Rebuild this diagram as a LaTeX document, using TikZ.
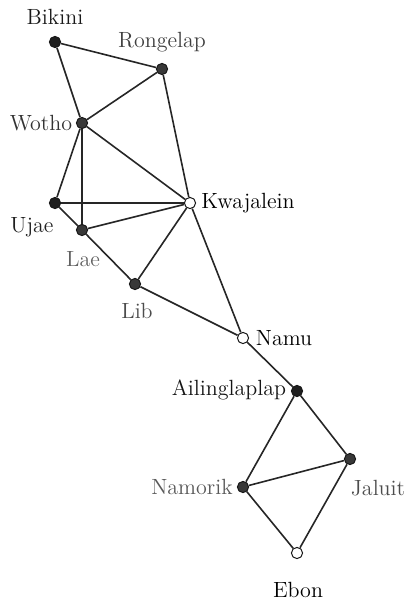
\documentclass[tikz,border=0pt]{standalone}
\begin{document}
\begin{tikzpicture}[x=0.5pt,y=-0.5pt,
  dot/.style={circle,draw=black!90,line width=0.5pt,inner sep=0pt,minimum size=5.6pt},
  dk/.style={dot,fill=black!88},
  md/.style={dot,fill=black!78},
  wt/.style={dot,fill=white},
  lbl/.style={inner sep=0pt,font=\fontsize{11}{13}\selectfont},
  edge/.style={line width=0.8pt,black!85}]
\useasboundingbox (0,0) rectangle (406,601);
% islands
\node[dk] (bik) at (55,42) {};
\node[md] (ron) at (162,69) {};
\node[md] (wot) at (82,123) {};
\node[dk] (uja) at (55,203) {};
\node[md] (lae) at (82,230) {};
\node[wt] (kwa) at (190,203) {};
\node[md] (lib) at (135,284) {};
\node[wt] (nam) at (243,338) {};
\node[dk] (ail) at (297,391) {};
\node[md] (nmk) at (243,487) {};
\node[md] (jal) at (350,459) {};
\node[wt] (ebo) at (297,553) {};
% edges
\draw[edge] (bik) -- (ron);
\draw[edge] (bik) -- (wot);
\draw[edge] (ron) -- (wot);
\draw[edge] (ron) -- (kwa);
\draw[edge] (wot) -- (kwa);
\draw[edge] (wot) -- (uja);
\draw[edge] (wot) -- (lae);
\draw[edge] (uja) -- (kwa);
\draw[edge] (uja) -- (lae);
\draw[edge] (lae) -- (kwa);
\draw[edge] (lae) -- (lib);
\draw[edge] (lib) -- (kwa);
\draw[edge] (kwa) -- (nam);
\draw[edge] (lib) -- (nam);
\draw[edge] (nam) -- (ail);
\draw[edge] (ail) -- (nmk);
\draw[edge] (ail) -- (jal);
\draw[edge] (nmk) -- (jal);
\draw[edge] (nmk) -- (ebo);
\draw[edge] (jal) -- (ebo);
% labels
\node[lbl,text=black!90] (lbik) at (55,17) {Bikini};
\node[lbl,text=black!75] (lron) at (162,42) {Rongelap};
\node[lbl,text=black!80] (lwot) at (41,123) {Wotho};
\node[lbl,text=black!88] (luja) at (32,227) {Ujae};
\node[lbl,text=black!62] (llae) at (83,259) {Lae};
\node[lbl,text=black!70] (llib) at (137,311) {Lib};
\node[lbl,text=black] (lkwa) at (248,203) {Kwajalein};
\node[lbl,text=black] (lnam) at (284,338) {Namu};
\node[lbl,text=black!92] (lail) at (229,390) {Ailinglaplap};
\node[lbl,text=black!65] (lnmk) at (192,487) {Namorik};
\node[lbl,text=black!70] (ljal) at (378,488) {Jaluit};
\node[lbl,text=black] (lebo) at (298,590) {Ebon};
\end{tikzpicture}
\end{document}
